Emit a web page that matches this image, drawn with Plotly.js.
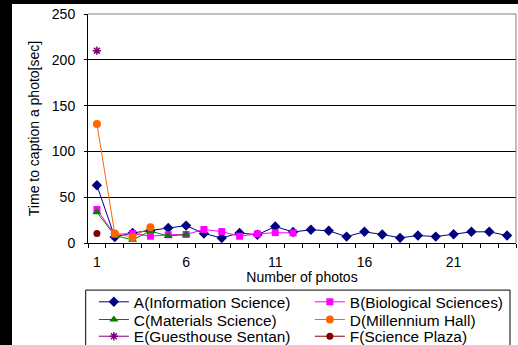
<!DOCTYPE html>
<html>
<head>
<meta charset="utf-8">
<script src="https://cdn.plot.ly/plotly-3.0.1.min.js"></script>
<style>
html,body{margin:0;padding:0;background:#000;width:518px;height:345px;overflow:hidden;}
#chart{position:absolute;left:12px;top:4px;width:506px;height:341px;background:#fff;}
</style>
</head>
<body>
<div id="chart"></div>
<script>
const photos = [1,2,3,4,5,6,7,8,9,10,11,12,13,14,15,16,17,18,19,20,21,22,23,24];
const seriesNames = ["A(Information Science)","B(Biological Sciences)","C(Materials Science)","D(Millennium Hall)","E(Guesthouse Sentan)","F(Science Plaza)"];
const valuesA = [63, 6.5, 11, 13.5, 16.5, 19, 10.4, 5.5, 11, 9, 18, 12, 14.5, 13.3, 7, 12.2, 9.3, 5.6, 8.2, 7, 9.6, 12.2, 12.2, 8.2];
const valuesB = [36.6, 9.3, 10.4, 7.4, 9, 9.3, 14.7, 12.5, 7.4, 10, 11.3, 11];
const valuesC = [33.6, 8.2, 3.5, 13, 7.6, 9.3];
const valuesD = [130, 10.4, 6.4, 17.3];
const valuesE = [210];
const valuesF = [10.4];
const xTickVals = [1, 6, 11, 16, 21];
const yTickVals = [0, 50, 100, 150, 200, 250];

const styles = [
  {color:'#000080', symbol:'diamond', size:8, legend:'legend'},
  {color:'#FF00FF', symbol:'square', size:7, legend:'legend'},
  {color:'#008000', symbol:'triangle-up', size:8, legend:'legend2'},
  {color:'#FF6600', symbol:'circle', size:8, legend:'legend2'},
  {color:'#800080', symbol:'asterisk-open', size:7, legend:'legend3'},
  {color:'#800000', symbol:'circle', size:7, legend:'legend3'}
];
const allValues = [valuesA, valuesB, valuesC, valuesD, valuesE, valuesF];

const traces = allValues.map((vals, i) => ({
  type:'scatter', mode:'lines+markers',
  x: photos.slice(0, vals.length), y: vals,
  name: seriesNames[i],
  legend: styles[i].legend,
  line:{color:styles[i].color, width:1},
  marker:{color:styles[i].color, symbol:styles[i].symbol, size:styles[i].size,
          line:{color:styles[i].color, width: styles[i].symbol==='asterisk-open'?1.5:0}}
}));

const font = {family:'"Liberation Sans", Arial, sans-serif', color:'#000'};
function legendAt(y){
  return {orientation:'h', xref:'container', yref:'container', x:0.1618, y:y,
    xanchor:'left', yanchor:'middle', bgcolor:'rgba(0,0,0,0)', borderwidth:0,
    entrywidth:171, entrywidthmode:'pixels', itemclick:false, itemdoubleclick:false,
    font:Object.assign({size:15.4}, font)};
}

const layout = {
  width:506, height:341,
  margin:{l:76, r:2, t:10, b:101.5, pad:0},
  paper_bgcolor:'#fff', plot_bgcolor:'#fff',
  font:Object.assign({size:14}, font),
  showlegend:true,
  xaxis:{
    range:[0.5, 24.5], tickmode:'array', tickvals:xTickVals, ticktext:xTickVals.map(String),
    ticks:'outside', ticklen:0, tickcolor:'#000', ticklabelstandoff:6,
    minor:{tick0:0.5, dtick:1, ticks:'outside', ticklen:4, tickcolor:'#000', showgrid:false},
    showgrid:false, zeroline:false, showline:true, linecolor:'#000', linewidth:1,
    tickfont:Object.assign({size:14}, font),
    title:{text:'Number of photos', font:Object.assign({size:14}, font), standoff:6}
  },
  yaxis:{
    range:[0, 250], tickmode:'array', tickvals:yTickVals,
    ticks:'outside', ticklen:3, tickcolor:'#000', ticklabelstandoff:6,
    showgrid:true, gridcolor:'#000', gridwidth:1, zeroline:false,
    showline:true, linecolor:'#000', linewidth:1,
    tickfont:Object.assign({size:14}, font),
    title:{text:'Time to caption a photo[sec]', font:Object.assign({size:14}, font), standoff:8}
  },
  legend: legendAt(0.1252),
  legend2: legendAt(0.0733),
  legend3: legendAt(0.0243),
  shapes:[
    {type:'line', xref:'paper', yref:'paper', x0:0, x1:1, y0:1, y1:1, line:{color:'#808080', width:1}, layer:'above'},
    {type:'line', xref:'paper', yref:'paper', x0:1, x1:1, y0:0, y1:1, line:{color:'#808080', width:1}, layer:'above'},
    {type:'rect', xref:'paper', yref:'paper', x0:-0.0054, x1:0.986, y0:-0.2057, y1:-0.47, line:{color:'#000', width:1}, fillcolor:'rgba(0,0,0,0)', layer:'above'}
  ]
};

Plotly.newPlot('chart', traces, layout, {displayModeBar:false, staticPlot:true});
</script>
</body>
</html>
